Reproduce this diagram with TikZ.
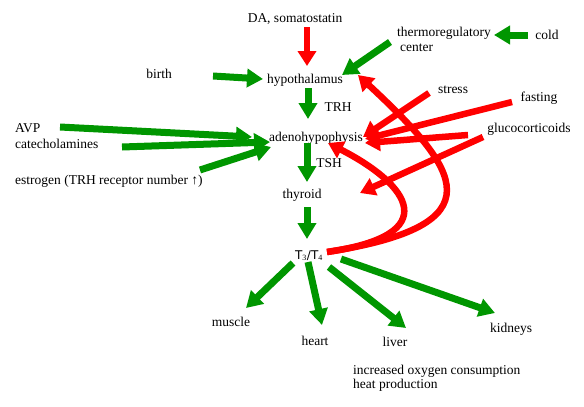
\documentclass[tikz,border=0pt]{standalone}
\usepackage{fontspec}
\setmainfont{Liberation Serif}
\newfontfamily\tfont{DejaVu Sans}
\usetikzlibrary{arrows.meta}
\definecolor{ggreen}{RGB}{0,150,0}
\definecolor{rred}{RGB}{255,0,0}
\tikzset{
  lbl/.style={inner sep=0pt, font=\fontsize{13.5}{16}\selectfont, anchor=base},
  lblw/.style={lbl, anchor=base west, align=left},
  garrow/.style={draw=ggreen, line width=7pt, -{Triangle[length=16pt,width=18pt]}},
  rarrow/.style={draw=rred, line width=6.5pt, -{Triangle[length=15pt,width=18pt]}},
}
\begin{document}
\begin{tikzpicture}[x=1pt,y=-1pt]
\useasboundingbox (0,0) rectangle (584,407);
% nodes
\node[lbl] (da) at (295,22) {DA, somatostatin};
\node[lbl] (hypo) at (305,83) {hypothalamus};
\node[lbl] (birth) at (159,78) {birth};
\node[lblw] (thermo) at (397,51) {thermoregulatory\\[-1pt]\hspace*{3pt}center};
\node[lbl] (cold) at (547,39) {cold};
\node[lbl] (trh) at (338,111) {TRH};
\node[lbl] (adeno) at (316,141) {adenohypophysis};
\node[lbl] (stress) at (453,93) {stress};
\node[lbl] (fasting) at (539,101) {fasting};
\node[lbl] (gluco) at (529,132) {glucocorticoids};
\node[lblw] (avp) at (15,148) {AVP\\[0pt]catecholamines};
\node[lblw] (estrogen) at (15,184) {estrogen (TRH receptor number ↑)};
\node[lbl] (tsh) at (329,167) {TSH};
\node[lbl] (thyroid) at (302,198) {thyroid};
\node[inner sep=0pt, anchor=base, font=\tfont\fontsize{12}{14}\selectfont] (t34) at (309,259) {T$_{\mathrm{3}}$/T$_{\mathrm{4}}$};
\node[lbl] (muscle) at (231,326) {muscle};
\node[lbl] (heart) at (315,345) {heart};
\node[lbl] (liver) at (395,346) {liver};
\node[lbl] (kidneys) at (511,332) {kidneys};
\node[lblw] (effects) at (353,388) {increased oxygen consumption\\[-2pt]heat production};
% connector end points
\coordinate (daS) at (307,27);   \coordinate (hypoN) at (307,66);
\coordinate (thS) at (390,42);   \coordinate (hypoNE) at (342,75);
\coordinate (coldW) at (528,35); \coordinate (thE) at (494,35);
\coordinate (birthE) at (213,76);\coordinate (hypoW) at (263,79);
\coordinate (hypoS) at (308,88); \coordinate (adenoN) at (308,119);
\coordinate (adenoS) at (307,143);\coordinate (thyN) at (307,182);
\coordinate (thyS) at (307,207); \coordinate (t34N) at (307,239);
\coordinate (avpE) at (60,127);  \coordinate (adenoW1) at (252,137);
\coordinate (catE) at (122,147); \coordinate (adenoW2) at (270,142);
\coordinate (estE) at (200,170); \coordinate (adenoW3) at (271,147);
\coordinate (t34a) at (293,263); \coordinate (muscleN) at (246,308);
\coordinate (t34b) at (308,262); \coordinate (heartN) at (322,325);
\coordinate (t34c) at (329,267); \coordinate (liverN) at (406,328);
\coordinate (t34d) at (341,259); \coordinate (kidneysN) at (495,313);
\coordinate (stressS) at (429,93);  \coordinate (adenoE1) at (363,137);
\coordinate (fastW) at (512,102);   \coordinate (adenoE2) at (365,139);
\coordinate (glucoW) at (468,135);  \coordinate (adenoE3) at (365,143);
\coordinate (glucoS) at (483,137);  \coordinate (thyE) at (360,193);
\coordinate (t34E) at (327,252);
\coordinate (hypoSE) at (358,75);
\coordinate (adenoSE) at (328,143);
% green arrows
\draw[garrow] (thS) -- (hypoNE);
\draw[garrow] (coldW) -- (thE);
\draw[garrow] (birthE) -- (hypoW);
\draw[garrow] (hypoS) -- (adenoN);
\draw[garrow] (adenoS) -- (thyN);
\draw[garrow] (thyS) -- (t34N);
\draw[garrow] (avpE) -- (adenoW1);
\draw[garrow] (catE) -- (adenoW2);
\draw[garrow] (estE) -- (adenoW3);
\draw[garrow] (t34a) -- (muscleN);
\draw[garrow] (t34b) -- (heartN);
\draw[garrow] (t34c) -- (liverN);
\draw[garrow] (t34d) -- (kidneysN);
% red arrows
\draw[rarrow] (daS) -- (hypoN);
\draw[rarrow] (stressS) -- (adenoE1);
\draw[rarrow] (fastW) -- (adenoE2);
\draw[rarrow] (glucoW) -- (adenoE3);
\draw[rarrow] (glucoS) -- (thyE);
\draw[rarrow] (t34E) .. controls (445,235) and (410,185) .. (adenoSE);
\draw[rarrow] (t34E) .. controls (500,225) and (460,170) .. (hypoSE);
\end{tikzpicture}
\end{document}
